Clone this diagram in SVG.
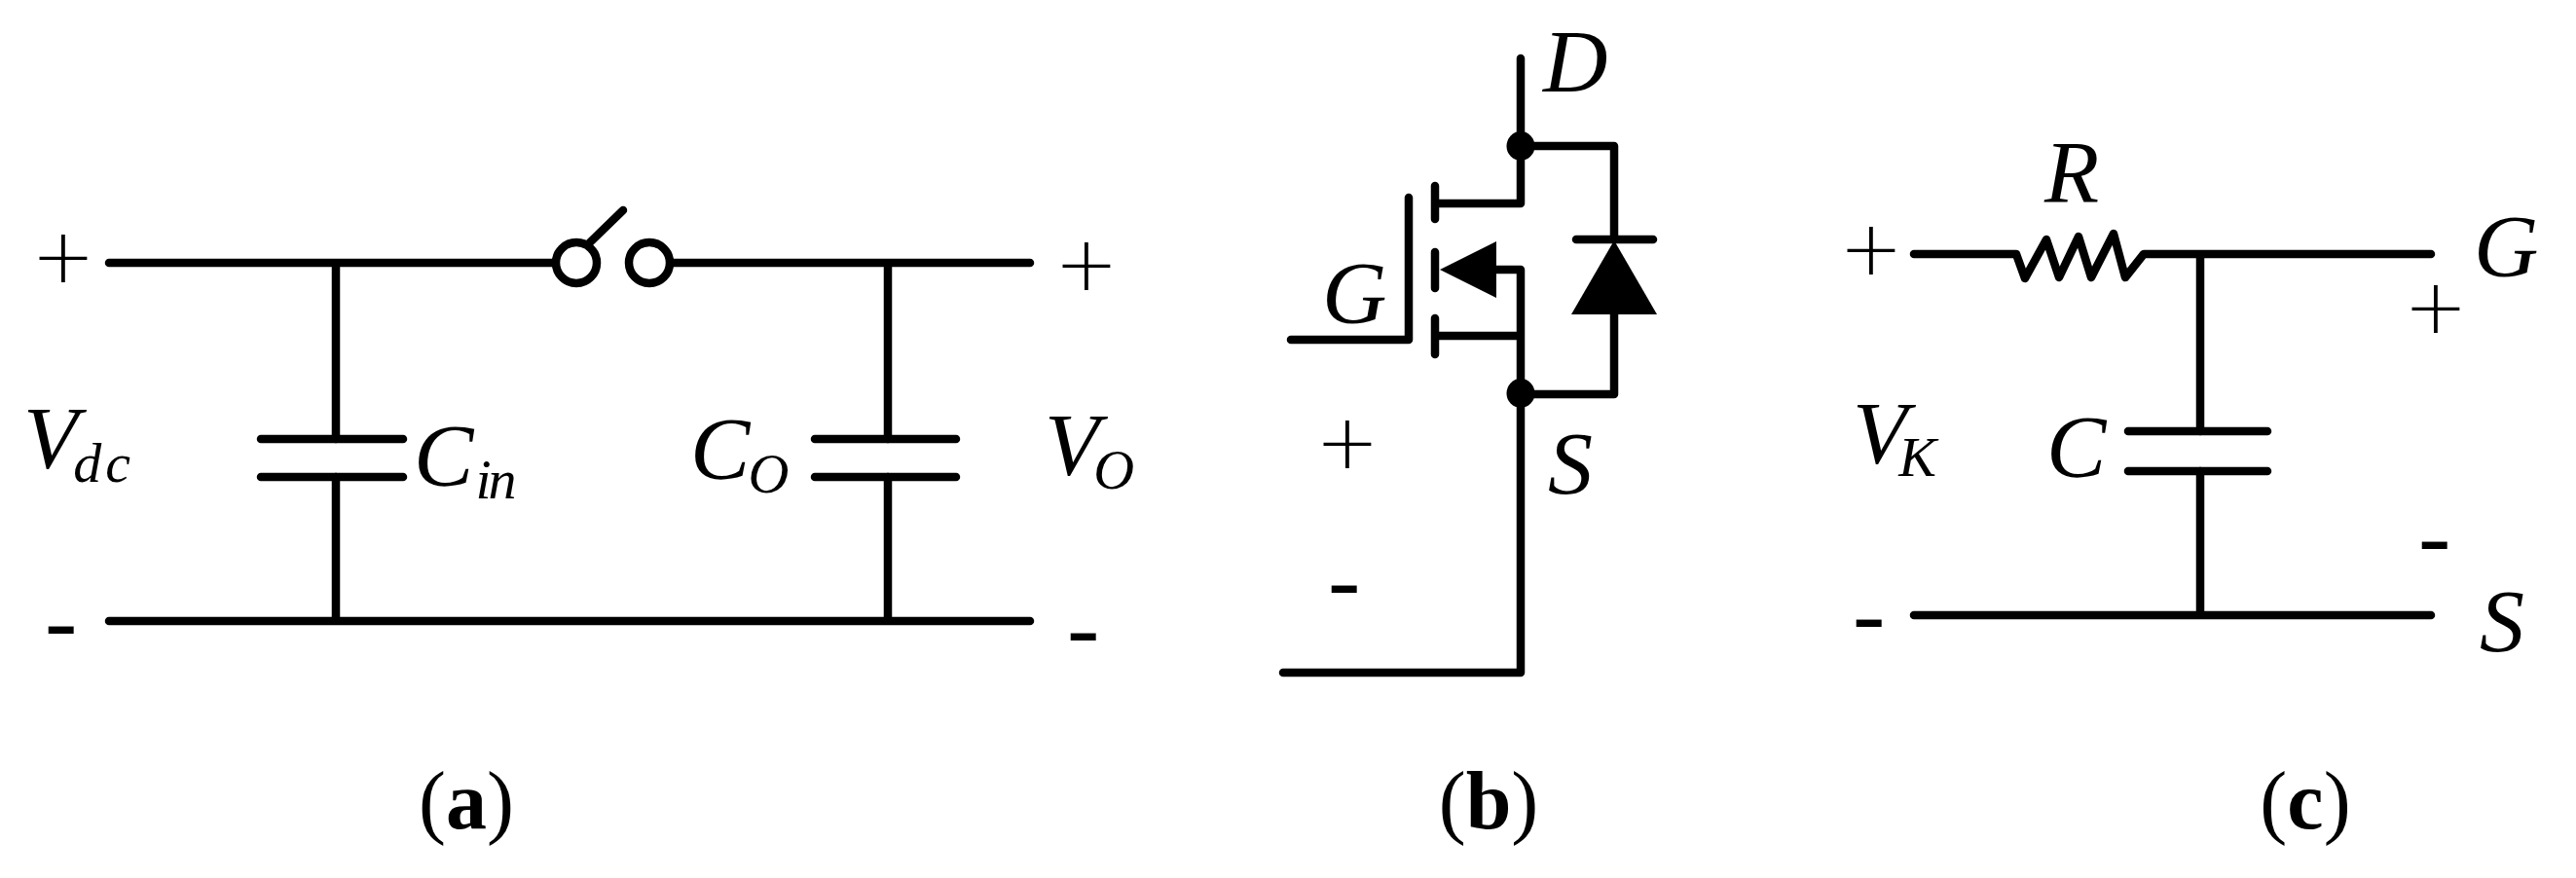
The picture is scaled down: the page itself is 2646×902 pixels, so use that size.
<svg xmlns="http://www.w3.org/2000/svg" width="2646" height="902" viewBox="0 0 2646 902">
<style>
.w{fill:none;stroke:#000;stroke-width:8.5;stroke-linecap:round;stroke-linejoin:round}
.b{fill:#000;stroke:none}
text{font-family:"Liberation Serif","Times New Roman",serif;fill:#000}
.i{font-style:italic;font-size:92px}
.s{font-size:58px}
.p{font-family:"DejaVu Sans",sans-serif;font-weight:200;font-size:78px;text-anchor:middle}
.m{font-style:italic;font-size:100px}
.c{font-size:84px;text-anchor:middle}
.cb{font-weight:bold}
</style>
<rect width="2646" height="902" fill="#fff"/>
<g id="connectors">
<path class="w" d="M112 270H570M691 270H1058M112 638H1058M345 270V451M345 490V638M912 270V451M912 490V638"/>
<path class="w" d="M1562 60V209H1478M1658 246V150H1562M1658 323V405H1562M1537 277H1562V691H1318M1478 345H1562M1326 349H1447V203"/>
<path class="w" d="M1966 261H2071L2080 286L2102 246L2115 285L2135 243L2148 285L2171 240L2183 285L2202 261H2497M2260 261V443M2260 484V632M1966 632H2497"/>
</g>
<g id="switch"><circle class="w" cx="592" cy="270" r="21"/><circle class="w" cx="667" cy="270" r="21"/><path class="w" d="M606 249L640 216"/></g>
<g id="cin"><path class="w" d="M268 451H414M268 490H414"/></g>
<g id="co"><path class="w" d="M837 451H982M837 490H982"/></g>
<g id="mosfet"><path class="w" d="M1474 191V225M1474 259V296M1474 327V364"/><path class="b" d="M1479 277L1537 248V306Z"/></g>
<g id="diode"><path class="w" d="M1619 246H1698"/><path class="b" d="M1658 247L1702 323H1614Z"/></g>
<g id="nodes"><ellipse class="b" cx="1562" cy="150" rx="14.5" ry="15"/><ellipse class="b" cx="1562" cy="404" rx="14.5" ry="15"/></g>
<g id="rc-cap"><path class="w" d="M2186 443H2329M2186 484H2329"/></g>
<g id="labels-a">
<text class="p" x="65" y="290">+</text>
<text class="i" x="24" y="481">V<tspan class="s" dx="-5" dy="14" letter-spacing="4">dc</tspan></text>
<text class="i" x="425" y="499">C<tspan class="s" dx="2" dy="13" font-size="52px" letter-spacing="-3">in</tspan></text>
<text class="i" x="709" y="492">C<tspan class="s" dx="-2" dy="14">O</tspan></text>
<text class="i" x="1073" y="488">V<tspan class="s" dx="-6" dy="14">O</tspan></text>
<text class="p" x="1116" y="298">+</text>
<text class="m" x="46" y="671">-</text>
<text class="m" x="1096" y="678">-</text>
<text class="c" x="479" y="851">(<tspan class="cb">a</tspan>)</text>
</g>
<g id="labels-b">
<text class="i" x="1585" y="94">D</text>
<text class="i" x="1358" y="332">G</text>
<text class="i" x="1590" y="507">S</text>
<text class="p" x="1384" y="481">+</text>
<text class="m" x="1364" y="629">-</text>
<text class="c" x="1529" y="851">(<tspan class="cb">b</tspan>)</text>
</g>
<g id="labels-c">
<text class="i" x="2100" y="208">R</text>
<text class="p" x="1922" y="282">+</text>
<text class="m" x="1903" y="664">-</text>
<text class="i" x="1903" y="476">V<tspan class="s" dx="-9" dy="13">K</tspan></text>
<text class="i" x="2102" y="490">C</text>
<text class="i" x="2541" y="284">G</text>
<text class="p" x="2502" y="342">+</text>
<text class="m" x="2484" y="584">-</text>
<text class="i" x="2547" y="669">S</text>
<text class="c" x="2368" y="851">(<tspan class="cb">c</tspan>)</text>
</g>
</svg>
